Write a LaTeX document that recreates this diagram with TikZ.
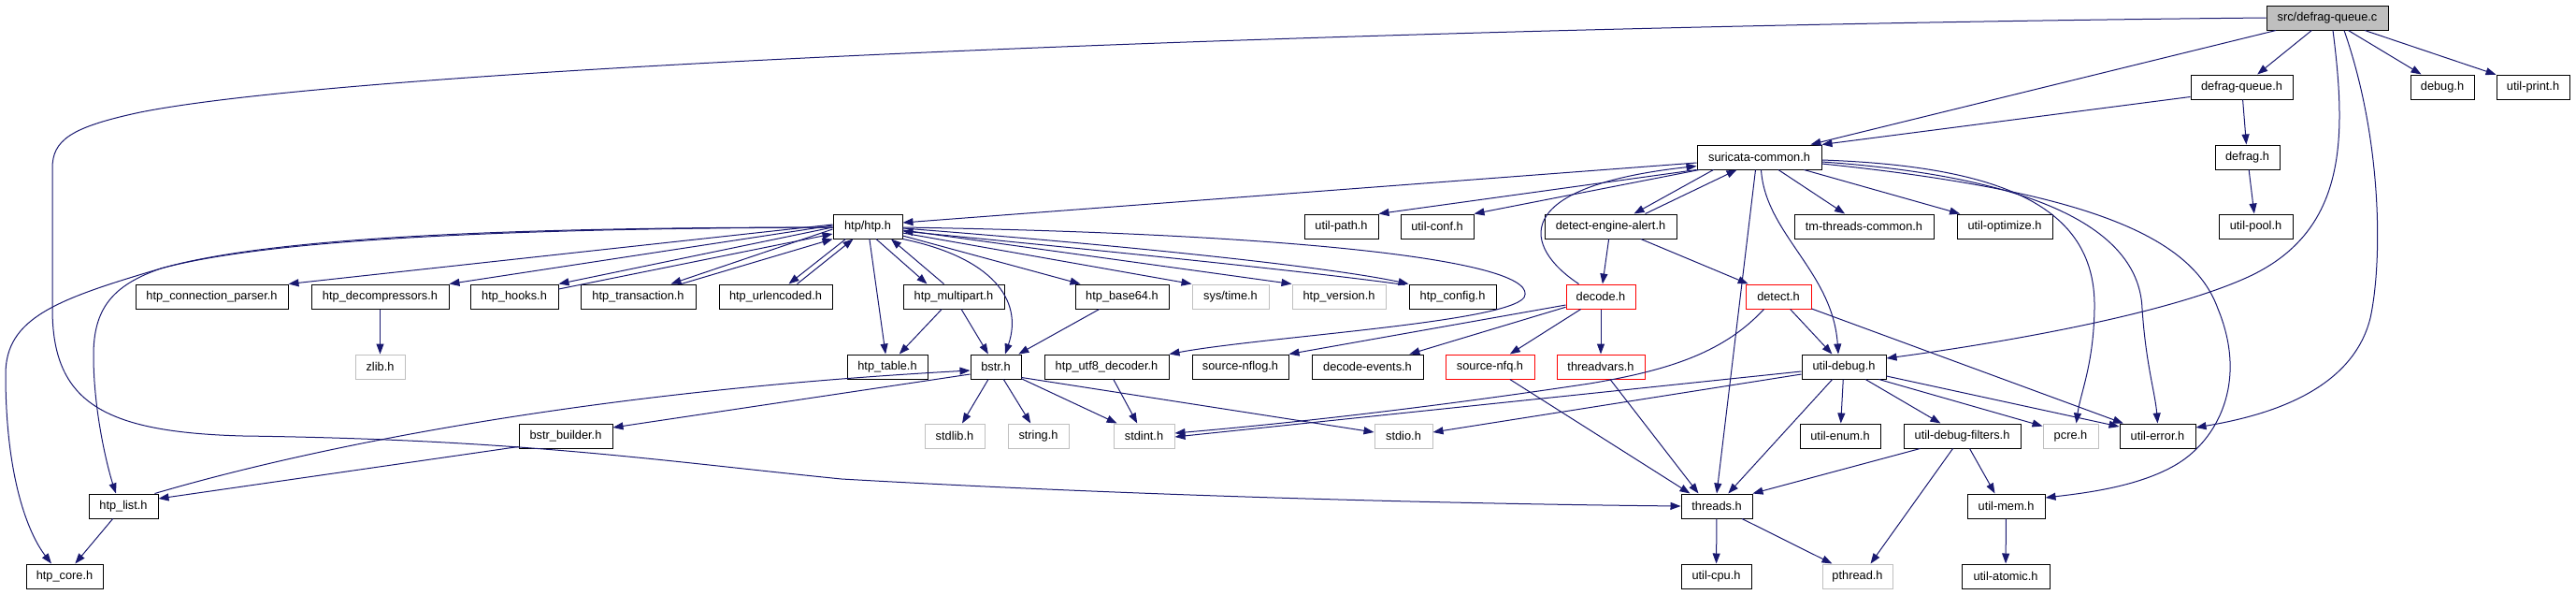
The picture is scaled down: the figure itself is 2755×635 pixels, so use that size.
\documentclass[tikz,border=0pt]{standalone}
\usepackage{fontspec}
\setmainfont{Liberation Sans}
\usetikzlibrary{arrows.meta,calc}
\definecolor{edgeblue}{HTML}{191970}
\definecolor{sysgray}{HTML}{BFBFBF}
\tikzset{
  box/.style={draw=black, fill=white, line width=1pt, minimum height=26pt, inner sep=0pt,
    font=\fontsize{12.8}{14}\selectfont},
  sysbox/.style={box, draw=sysgray},
  truncbox/.style={box, draw=red},
  rootbox/.style={box, fill=sysgray},
  dep/.style={draw=edgeblue, line width=1pt, -{Triangle[length=11pt,width=8pt]}}
}
\begin{document}
\begin{tikzpicture}[x=1pt,y=-1pt]
\useasboundingbox (0,0) rectangle (2755,635);
% row 0
\node[rootbox, minimum width=130pt] (srcdq) at (2489,19) {src/defrag-queue.c};
% row 1
\node[box, minimum width=109pt] (defragqueueh) at (2397.5,93) {defrag-queue.h};
\node[box, minimum width=68pt] (debugh) at (2612,93) {debug.h};
\node[box, minimum width=78pt] (utilprint) at (2709,93) {util-print.h};
% row 2
\node[box, minimum width=133pt] (suricata) at (1881.5,168) {suricata-common.h};
\node[box, minimum width=69pt] (defragh) at (2403.5,168) {defrag.h};
% row 3
\node[box, minimum width=74pt] (htph) at (928,242) {htp/htp.h};
\node[box, minimum width=79pt] (utilpath) at (1434.5,242) {util-path.h};
\node[box, minimum width=78pt] (utilconf) at (1537,242) {util-conf.h};
\node[box, minimum width=141pt] (dea) at (1722.5,242) {detect-engine-alert.h};
\node[box, minimum width=149pt] (tmtc) at (1993.5,242) {tm-threads-common.h};
\node[box, minimum width=102pt] (utilopt) at (2144,242) {util-optimize.h};
\node[box, minimum width=79pt] (utilpool) at (2412.5,242) {util-pool.h};
% row 4
\node[box, minimum width=163pt] (conn) at (226.5,317) {htp\_connection\_parser.h};
\node[box, minimum width=147pt] (decomp) at (406.5,317) {htp\_decompressors.h};
\node[box, minimum width=94pt] (hooks) at (550,317) {htp\_hooks.h};
\node[box, minimum width=123pt] (trans) at (682.5,317) {htp\_transaction.h};
\node[box, minimum width=121pt] (urlenc) at (829.5,317) {htp\_urlencoded.h};
\node[box, minimum width=108pt] (multipart) at (1020,317) {htp\_multipart.h};
\node[box, minimum width=100pt] (base64) at (1200,317) {htp\_base64.h};
\node[sysbox, minimum width=82pt] (systime) at (1316,317) {sys/time.h};
\node[sysbox, minimum width=100pt] (version) at (1432,317) {htp\_version.h};
\node[box, minimum width=93pt] (config) at (1553.5,317) {htp\_config.h};
\node[truncbox, minimum width=74pt] (decode) at (1712,317) {decode.h};
\node[truncbox, minimum width=70pt] (detect) at (1902,317) {detect.h};
% row 5
\node[sysbox, minimum width=53pt] (zlib) at (406.5,392) {zlib.h};
\node[box, minimum width=86pt] (table) at (949,392) {htp\_table.h};
\node[box, minimum width=54pt] (bstr) at (1065,392) {bstr.h};
\node[box, minimum width=133pt] (utf8) at (1183.5,392) {htp\_utf8\_decoder.h};
\node[box, minimum width=103pt] (nflog) at (1326.5,392) {source-nflog.h};
\node[box, minimum width=119pt] (events) at (1462.5,392) {decode-events.h};
\node[truncbox, minimum width=95pt] (nfq) at (1593.5,392) {source-nfq.h};
\node[truncbox, minimum width=94pt] (threadvars) at (1712,392) {threadvars.h};
\node[box, minimum width=90pt] (utildebug) at (1972,392) {util-debug.h};
% row 6
\node[box, minimum width=100pt] (bstrbuilder) at (605,466) {bstr\_builder.h};
\node[sysbox, minimum width=64pt] (stdlib) at (1021,466) {stdlib.h};
\node[sysbox, minimum width=65pt] (string) at (1110.5,466) {string.h};
\node[sysbox, minimum width=65pt] (stdint) at (1223.5,466) {stdint.h};
\node[sysbox, minimum width=62pt] (stdio) at (1501,466) {stdio.h};
\node[box, minimum width=86pt] (utilenum) at (1968,466) {util-enum.h};
\node[box, minimum width=125pt] (udf) at (2098.5,466) {util-debug-filters.h};
\node[sysbox, minimum width=59pt] (pcre) at (2214.5,466) {pcre.h};
\node[box, minimum width=81pt] (utilerror) at (2307.5,466) {util-error.h};
% row 7
\node[box, minimum width=74pt] (htplist) at (132,541) {htp\_list.h};
\node[box, minimum width=76pt] (threads) at (1836,541) {threads.h};
\node[box, minimum width=83pt] (utilmem) at (2145.5,541) {util-mem.h};
% row 8
\node[box, minimum width=82pt] (htpcore) at (69,616) {htp\_core.h};
\node[box, minimum width=75pt] (utilcpu) at (1835.5,616) {util-cpu.h};
\node[sysbox, minimum width=75pt] (pthread) at (1986.5,616) {pthread.h};
\node[box, minimum width=94pt] (utilatomic) at (2145,616) {util-atomic.h};

% ---- edges from src/defrag-queue.c
\draw[dep] (srcdq) -- (suricata);
\draw[dep] (srcdq) -- (defragqueueh);
\draw[dep] (srcdq) -- (debugh);
\draw[dep] (srcdq) -- (utilprint);
\draw[dep] (srcdq.west) .. controls (1500,28) and (400,70) .. (150,120)
  .. controls (75,136) and (56,150) .. (56,180) -- (56,330)
  .. controls (56,430) and (110,462) .. (260,466)
  .. controls (560,470) and (700,492) .. (900,512)
  .. controls (1250,532) and (1600,539) .. (threads.west);
\draw[dep] ($(srcdq.south)+(6,0)$) .. controls (2510,150) and (2510,250) .. (2400,298)
  .. controls (2300,342) and (2100,372) .. ($(utildebug.east)+(0,-9)$);
\draw[dep] ($(srcdq.south)+(18,0)$) .. controls (2548,150) and (2548,280) .. (2535,340)
  .. controls (2515,420) and (2420,445) .. ($(utilerror.east)+(0,-9)$);
% defrag
\draw[dep] ($(defragqueueh.south west)+(0,-3)$) -- (suricata.north east);
\draw[dep] (defragqueueh) -- (defragh);
\draw[dep] (defragh) -- (utilpool);
% suricata-common
\draw[dep] ($(suricata.west)+(0,6)$) -- ($(htph.east)+(0,-4)$);
\draw[dep] (suricata.south west) -- (utilpath.north east);
\draw[dep] ($(suricata.south west)+(3,0)$) -- (utilconf.north east);
\draw[dep] ($(suricata.south west)+(18,0)$) -- ($(dea.north east)+(-46,0)$);
\draw[dep] ($(dea.north east)+(-34,0)$) -- ($(suricata.south west)+(43,0)$);
\draw[dep] (suricata) -- (tmtc);
\draw[dep] (suricata) -- (utilopt);
\draw[dep] ($(suricata.south)+(2,0)$) .. controls (1888,250) and (1960,290) .. ($(utildebug.north)+(-6,0)$);
\draw[dep] ($(suricata.south)+(-4,0)$) -- (threads.north);
\draw[dep] ($(suricata.east)+(0,3)$) .. controls (2150,178) and (2242,225) .. (2240,330)
  .. controls (2239,390) and (2225,420) .. ($(pcre.north)+(6,0)$);
\draw[dep] ($(suricata.east)+(0,5)$) .. controls (2190,190) and (2288,250) .. (2291,330)
  .. controls (2295,390) and (2305,420) .. (utilerror.north);
\draw[dep] ($(suricata.east)+(0,7)$) .. controls (2240,205) and (2345,255) .. (2372,330)
  .. controls (2405,410) and (2370,470) .. (2330,495)
  .. controls (2290,520) and (2230,527) .. ($(utilmem.east)+(0,-9)$);
% detect-engine-alert, decode
\draw[dep] (dea) -- (decode);
\draw[dep] (dea) -- (detect);
\draw[dep] ($(decode.north west)+(14,0)$) .. controls (1630,265) and (1610,200) .. ($(suricata.south west)+(0,-4)$);
\draw[dep] ($(decode.west)+(0,9)$) -- (nflog.north east);
\draw[dep] (decode) -- (events);
\draw[dep] (decode) -- (nfq);
\draw[dep] (decode) -- (threadvars);
% htp/htp.h
\draw[dep] ($(htph.east)+(0,1)$) .. controls (1400,250) and (1650,280) .. (1630,318)
  .. controls (1610,345) and (1350,360) .. (utf8.north east);
\draw[dep] ($(htph.east)+(0,2)$) .. controls (1200,262) and (1420,285) .. (config.north west);
\draw[dep] ($(config.north west)+(-4,1)$) .. controls (1400,290) and (1150,265) .. ($(htph.east)+(0,5)$);
\draw[dep] ($(htph.east)+(0,4)$) -- (version.north west);
\draw[dep] ($(htph.east)+(0,7)$) -- (systime.north west);
\draw[dep] ($(htph.east)+(0,10)$) -- ($(base64.north west)+(6,0)$);
\draw[dep] (htph.south east) .. controls (1060,275) and (1095,320) .. ($(bstr.north)+(10,0)$);
\draw[dep] (htph) -- (table);
\draw[dep] ($(htph.south)+(9,0)$) -- ($(multipart.north west)+(26,0)$);
\draw[dep] ($(multipart.north west)+(44,0)$) -- ($(htph.south)+(25,0)$);
\draw[dep] ($(htph.south west)+(14,0)$) -- ($(urlenc.north east)+(-47,0)$);
\draw[dep] ($(urlenc.north east)+(-38,0)$) -- ($(htph.south west)+(22,0)$);
\draw[dep] ($(htph.west)+(0,3)$) -- ($(trans.north)+(35,0)$);
\draw[dep] ($(trans.north)+(46,0)$) -- (htph.south west);
\draw[dep] ($(htph.west)+(0,1)$) -- (hooks.north east);
\draw[dep] ($(hooks.east)+(0,-8)$) -- ($(htph.west)+(0,8)$);
\draw[dep] ($(htph.west)+(0,-1)$) -- (decomp.north east);
\draw[dep] ($(htph.west)+(0,-2)$) -- (conn.north east);
\draw[dep] ($(htph.west)+(0,1)$) .. controls (600,243) and (300,250) .. (172,287)
  .. controls (60,320) and (6,340) .. (6,400)
  .. controls (6,510) and (30,570) .. ($(htpcore.north)+(-14,0)$);
\draw[dep] ($(htph.west)+(0,1)$) .. controls (600,244) and (300,252) .. (172,287)
  .. controls (120,305) and (100,330) .. (100,380)
  .. controls (100,440) and (115,500) .. ($(htplist.north)+(-8,0)$);
% htp libs
\draw[dep] (decomp) -- (zlib);
\draw[dep] (multipart) -- (table);
\draw[dep] (multipart) -- (bstr);
\draw[dep] (base64) -- (bstr);
\draw[dep] (utf8) -- (stdint);
\draw[dep] (bstr) -- (stdlib);
\draw[dep] (bstr) -- (string);
\draw[dep] (bstr) -- (stdint);
\draw[dep] ($(bstr.south east)+(0,-2)$) -- ($(stdio.west)+(0,-4)$);
\draw[dep] ($(bstr.west)+(0,8)$) -- ($(bstrbuilder.east)+(0,-9)$);
\draw[dep] ($(htplist.north east)+(-4,0)$) .. controls (310,485) and (600,420) .. ($(bstr.west)+(0,4)$);
\draw[dep] ($(bstrbuilder.south west)+(0,-2)$) -- ($(htplist.east)+(0,-8)$);
\draw[dep] (htplist) -- (htpcore);
% detect, util-debug
\draw[dep] (detect) -- (utildebug);
\draw[dep] (detect) -- (utilerror);
\draw[dep] ($(detect.south west)+(20,0)$) .. controls (1845,375) and (1790,395) .. (1700,410)
  .. controls (1500,440) and (1350,455) .. ($(stdint.east)+(0,-3)$);
\draw[dep] ($(utildebug.west)+(0,5)$) -- ($(stdint.east)+(0,1)$);
\draw[dep] ($(utildebug.west)+(0,8)$) -- ($(stdio.east)+(0,-4)$);
\draw[dep] (utildebug) -- (threads);
\draw[dep] (utildebug) -- (utilenum);
\draw[dep] (utildebug) -- (udf);
\draw[dep] ($(utildebug.south east)+(-8,0)$) -- ($(pcre.north west)+(0,3)$);
\draw[dep] ($(utildebug.east)+(0,10)$) -- ($(utilerror.west)+(0,-10)$);
\draw[dep] ($(udf.south west)+(18,0)$) -- (threads.north east);
\draw[dep] ($(udf.south)+(-10,0)$) -- ($(pthread.north)+(14,0)$);
\draw[dep] ($(udf.south)+(8,0)$) -- ($(utilmem.north)+(-12,0)$);
\draw[dep] (threads) -- (utilcpu);
\draw[dep] (threads) -- (pthread);
\draw[dep] (utilmem) -- (utilatomic);
\draw[dep] (nfq) -- ($(threads.north west)+(10,0)$);
\draw[dep] ($(threadvars.south)+(10,0)$) -- ($(threads.north west)+(19,0)$);
\end{tikzpicture}
\end{document}
